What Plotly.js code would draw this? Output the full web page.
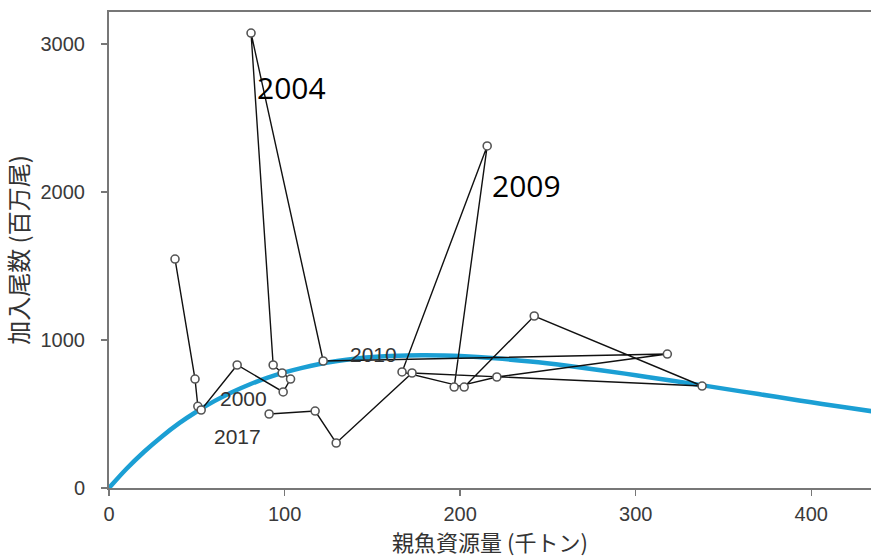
<!DOCTYPE html>
<html>
<head>
<meta charset="utf-8">
<script src="https://cdn.plot.ly/plotly-3.0.1.min.js"></script>
<style>
html,body{margin:0;padding:0;background:#fff;}
#chart{width:871px;height:558px;}
</style>
</head>
<body>
<div id="chart"></div>
<script>
// Observed stock-recruitment pairs, 1995-2017 (SSB in kt, recruits in millions)
const years = [1995,1996,1997,1998,1999,2000,2001,2002,2003,2004,2005,2006,2007,2008,2009,2010,2011,2012,2013,2014,2015,2016,2017];
const ssb = [37.6,49.0,50.6,52.5,73.0,99.2,103.4,98.6,93.5,80.9,122.0,318.0,220.9,196.6,215.4,166.9,202.3,242.2,337.8,172.6,129.4,117.4,91.2];
const recruits = [1547,736,552,527,831,649,736,777,831,3074,858,905,750,682,2311,784,682,1162,689,777,304,520,500];

// Fitted curve
const curveS = [0,10,20,30,40,50,60,70,80,90,100,110,120,130,140,150,160,170,180,190,200,220,240,260,280,300,320,340,360,380,400,420,440];
const curveR = [0,130,245,347,438,517,587,647,699,744,781,812,838,858,874,885,892,896,897,895,891,876,854,827,796,762,726,690,653,616,579,544,509];

// Year labels
const labelYears = ["2004","2009","2000","2017","2010"];

const tickFont = {family:"'Liberation Sans',Arial,sans-serif", size:20, color:"#3a3a3a"};
const cjkFont = "'Noto Sans CJK JP','Noto Sans CJK SC',sans-serif";

const traces = [
  {
    x: curveS, y: curveR, mode: "lines", type: "scatter",
    line: {color: "#1b9fd4", width: 4.5, shape: "spline"},
    hoverinfo: "skip", showlegend: false
  },
  {
    x: ssb, y: recruits, text: years.map(String), mode: "lines+markers", type: "scatter",
    line: {color: "#111111", width: 1.4},
    marker: {symbol: "circle", size: 8, color: "#ffffff", line: {color: "#555555", width: 1.6}},
    showlegend: false
  }
];

const bigFont = {family:"'Open Sans','Noto Sans',sans-serif", size:30, color:"#000"};
const smallFont = {family:"'Liberation Sans',Arial,sans-serif", size:21, color:"#333"};

const layout = {
  width: 871, height: 558,
  margin: {l: 109, r: 0, t: 12, b: 70},
  paper_bgcolor: "#ffffff", plot_bgcolor: "#ffffff",
  showlegend: false,
  xaxis: {
    range: [0, 434], tickvals: [0,100,200,300,400], ticktext: ["0","100","200","300","400"],
    showgrid: false, zeroline: false,
    showline: true, mirror: true, linecolor: "#777777", linewidth: 2,
    ticks: "outside", ticklen: 6, tickwidth: 1.5, tickcolor: "#777777",
    tickfont: tickFont, ticklabelstandoff: 1,
    title: {text: "親魚資源量 (千トン)", font: {family: cjkFont, size: 22, color: "#333"}, standoff: 4}
  },
  yaxis: {
    range: [0, 3216], tickvals: [0,1000,2000,3000], ticktext: ["0","1000","2000","3000"],
    showgrid: false, zeroline: false,
    showline: true, mirror: false, linecolor: "#777777", linewidth: 2,
    ticks: "outside", ticklen: 6, tickwidth: 1.5, tickcolor: "#777777",
    tickfont: tickFont, ticklabelstandoff: 12,
    title: {text: "加入尾数 (百万尾)", font: {family: cjkFont, size: 24, color: "#333"}, standoff: 8}
  },
  annotations: [
    {x: 103.7, y: 2703, text: labelYears[0], showarrow: false, font: bigFont, xref: "x", yref: "y"},
    {x: 237.6, y: 2047, text: labelYears[1], showarrow: false, font: bigFont, xref: "x", yref: "y"},
    {x: 76.4, y: 608, text: labelYears[2], showarrow: false, font: smallFont, xref: "x", yref: "y"},
    {x: 73.0, y: 351, text: labelYears[3], showarrow: false, font: smallFont, xref: "x", yref: "y"},
    {x: 150.4, y: 899, text: labelYears[4], showarrow: false, font: smallFont, xref: "x", yref: "y"}
  ]
};

Plotly.newPlot("chart", traces, layout, {displayModeBar: false, staticPlot: true});
</script>
</body>
</html>
